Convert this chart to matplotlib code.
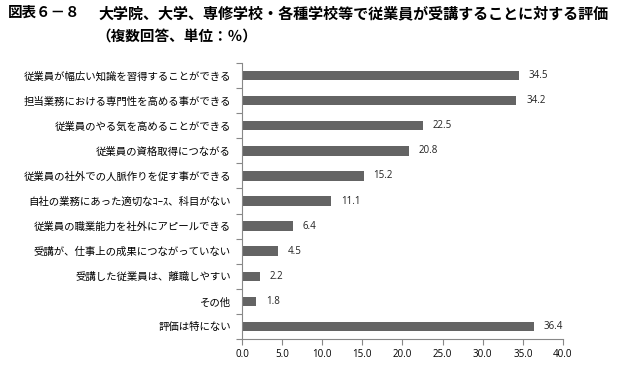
import numpy as np
import matplotlib.pyplot as plt

plt.rcParams['font.family'] = ['Noto Sans CJK JP', 'DejaVu Sans']

labels = [
    '従業員が幅広い知識を習得することができる',
    '担当業務における専門性を高める事ができる',
    '従業員のやる気を高めることができる',
    '従業員の資格取得につながる',
    '従業員の社外での人脈作りを促す事ができる',
    '自社の業務にあった適切なｺｰｽ、科目がない',
    '従業員の職業能力を社外にアピールできる',
    '受講が、仕事上の成果につながっていない',
    '受講した従業員は、離職しやすい',
    'その他',
    '評価は特にない',
]
values = [34.5, 34.2, 22.5, 20.8, 15.2, 11.1, 6.4, 4.5, 2.2, 1.8, 36.4]
xticks = [0, 5, 10, 15, 20, 25, 30, 35, 40]

W, H = 620, 373
fig = plt.figure(figsize=(W / 100, H / 100), dpi=100)
ax = fig.add_axes([242 / W, 1 - 339 / H, (563 - 242) / W, (339 - 63) / H])

y = np.arange(len(labels))
ax.barh(y, values, height=0.38, color='#646464')
for yi, v in zip(y, values):
    ax.text(v + 1.2, yi, f'{v:.1f}', va='center', ha='left', fontsize=7,
            family=['Open Sans', 'DejaVu Sans'], color='#222222')

ax.set_xlim(0, 40)
ax.set_ylim(len(labels) - 0.5, -0.5)
ax.set_xticks(xticks)
ax.set_xticklabels([f'{t:.1f}' for t in xticks], fontsize=7,
                   family=['Open Sans', 'DejaVu Sans'])
ax.set_yticks(y)
ax.set_yticklabels(labels, fontsize=7.5)
ax.set_yticks(np.arange(-0.5, len(labels)), minor=True)
ax.tick_params(axis='y', which='major', length=0, pad=8)
ax.tick_params(axis='y', which='minor', length=4, color='#888888', width=0.8)
ax.tick_params(axis='x', length=4, color='#888888', width=0.8, pad=3)

for s in ['top', 'right']:
    ax.spines[s].set_visible(False)
for s in ['left', 'bottom']:
    ax.spines[s].set_color('#888888')
    ax.spines[s].set_linewidth(0.8)


def fit_text(x0, x1, yc, s, size):
    # place text, then rescale font so it spans x0..x1 pixels
    t = fig.text(x0 / W, 1 - yc / H, s, fontsize=size, va='center',
                 ha='left', fontweight='bold')
    r = fig.canvas.get_renderer()
    w = t.get_window_extent(r).width
    t.set_fontsize(size * (x1 - x0) / w)
    return t


fit_text(8, 81, 13, '図表６－８', 10.5)
fit_text(98, 612, 13,
         '大学院、大学、専修学校・各種学校等で従業員が受講することに対する評価', 10.5)
fig.text(96 / W, 1 - 37 / H, '（複数回答、単位：％）', fontsize=10.5,
         va='center', ha='left', fontweight='bold')

fig.savefig('out.png', dpi=100)
